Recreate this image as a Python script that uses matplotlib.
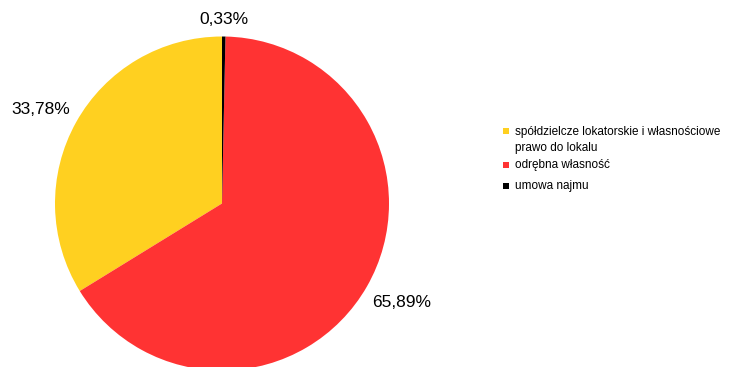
import numpy as np
import matplotlib.pyplot as plt
from matplotlib.patches import Rectangle

plt.rcParams['font.family'] = ['Liberation Sans', 'DejaVu Sans']

# Struktura tytułów prawnych do lokali
categories = ['spółdzielcze lokatorskie i własnościowe\nprawo do lokalu',
              'odrębna własność',
              'umowa najmu']
shares = [33.78, 65.89, 0.33]
colors = ['#FFD020', '#FF3333', '#000000']
label_dist = [1.22, 1.225, 1.10]
label_turn = [1.8, 1.0, 0.0]

W, H = 733, 367
fig = plt.figure(figsize=(W / 100, H / 100), dpi=100)


def fx(px):
    return px / W


def fy(py):
    # pixel row counted from the top -> figure fraction
    return 1 - py / H


# pie centre and radius in pixels
cx, cy, r = 222, 203.5, 167
ax = fig.add_axes([(cx - r) / W, (H - cy - r) / H, 2 * r / W, 2 * r / H])

wedges, _ = ax.pie(shares, colors=colors, startangle=90, counterclock=True,
                   radius=1, wedgeprops=dict(linewidth=0))
ax.set_xlim(-1, 1)
ax.set_ylim(-1, 1)
ax.axis('off')
for w in wedges:
    w.set_clip_on(False)

# percentage labels outside the slices
for w, val, d, turn in zip(wedges, shares, label_dist, label_turn):
    ang = np.deg2rad((w.theta1 + w.theta2) / 2 + turn)
    txt = f'{val:.2f}%'.replace('.', ',')
    ax.text(d * np.cos(ang), d * np.sin(ang), txt, ha='center', va='center',
            fontsize=12.5, color='#000000', clip_on=False)

# legend: square marker next to the first line of each entry
first_baselines = [134.5, 168.0, 189.5]
line_step = 16
for lab, c, yb in zip(categories, colors, first_baselines):
    fig.patches.append(Rectangle((fx(503), fy(yb - 0.5)), fx(6), 6 / H,
                                 facecolor=c, edgecolor='none',
                                 transform=fig.transFigure))
    # va='baseline' anchors the last line of a multi-line label
    last = yb + line_step * lab.count('\n')
    fig.text(fx(515), fy(last), lab, ha='left', va='baseline', fontsize=8.5,
             linespacing=1.4, color='#000000')

fig.savefig('out.png', dpi=100)
